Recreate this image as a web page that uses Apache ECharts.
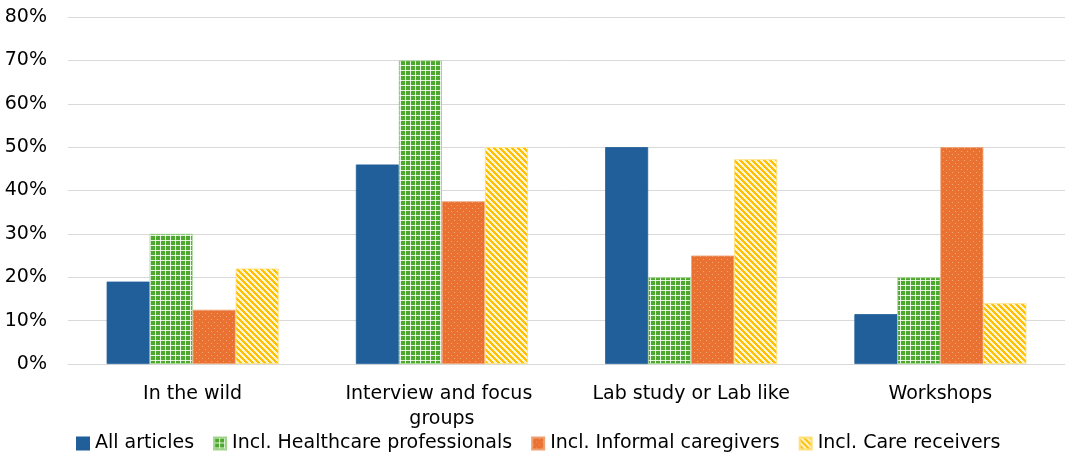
<!DOCTYPE html>
<html>
<head>
<meta charset="utf-8">
<script src="https://cdn.jsdelivr.net/npm/echarts@6/dist/echarts.min.js"></script>
<style>
  html, body { margin: 0; padding: 0; background: #ffffff; }
  #chart { width: 1065px; height: 453px; }
</style>
</head>
<body>
<div id="chart"></div>
<script>
// Study settings and the share of articles for each participant group
const categories = ['In the wild', 'Interview and focus groups', 'Lab study or Lab like', 'Workshops'];
const seriesNames = ['All articles', 'Incl. Healthcare professionals', 'Incl. Informal caregivers', 'Incl. Care receivers'];
const allArticles = [19, 46, 50, 11.5];
const healthcareProfessionals = [30, 70, 20, 20];
const informalCaregivers = [12.5, 37.5, 25, 50];
const careReceivers = [22, 50, 47.2, 14];
const yTicks = [0, 10, 20, 30, 40, 50, 60, 70, 80];

const FONT = '"DejaVu Sans", "Open Sans", sans-serif';
const FONT_SIZE = 19;

// Small repeating tiles used as bar fills
function tile(size, draw) {
  const c = document.createElement('canvas');
  c.width = size; c.height = size;
  const ctx = c.getContext('2d');
  draw(ctx, size);
  return { image: c, repeat: 'repeat' };
}
const gridFill = tile(5, (ctx, s) => {
  ctx.fillStyle = '#4EA72E'; ctx.fillRect(0, 0, s, s);
  ctx.fillStyle = 'rgba(255,255,255,0.85)';
  ctx.fillRect(0, 0, s, 1);
  ctx.fillRect(0, 0, 1, s);
});
const dotFill = tile(6, (ctx, s) => {
  ctx.fillStyle = '#E97132'; ctx.fillRect(0, 0, s, s);
  ctx.fillStyle = 'rgba(255,200,160,0.6)';
  ctx.fillRect(1, 1, 1, 1);
  ctx.fillRect(4, 4, 1, 1);
});
const stripeFill = tile(6, (ctx, s) => {
  ctx.fillStyle = '#FFC000'; ctx.fillRect(0, 0, s, s);
  ctx.fillStyle = '#FFF4D6';
  for (let y = 0; y < s; y++) {
    for (let k = 0; k < 3; k++) ctx.fillRect((y + k) % s, y, 1, 1);
  }
});

const fills = ['#215F9A', gridFill, dotFill, stripeFill];
const borders = ['#215F9A', '#9fd58a', '#f0a070', '#ffe07a'];
const values = [allArticles, healthcareProfessionals, informalCaregivers, careReceivers];

const chart = echarts.init(document.getElementById('chart'), null, { renderer: 'canvas' });
chart.setOption({
  animation: false,
  backgroundColor: '#ffffff',
  textStyle: { fontFamily: FONT },
  grid: { left: 68, right: 0, top: 17, bottom: 89, containLabel: false },
  legend: {
    top: 429,
    left: 71,
    itemWidth: 12,
    itemHeight: 12,
    itemGap: 19,
    icon: 'rect',
    textStyle: { fontFamily: FONT, fontSize: FONT_SIZE, color: '#000000', padding: [0, 0, 0, 1] },
    data: seriesNames
  },
  xAxis: {
    type: 'category',
    data: categories,
    axisLine: { show: true, lineStyle: { color: '#d9d9d9', width: 1 } },
    axisTick: { show: false },
    axisLabel: {
      fontFamily: FONT, fontSize: FONT_SIZE, color: '#000000',
      margin: 18, lineHeight: 25, width: 205, overflow: 'break', interval: 0
    }
  },
  yAxis: {
    type: 'value',
    min: yTicks[0],
    max: yTicks[yTicks.length - 1],
    interval: yTicks[1] - yTicks[0],
    axisLine: { show: false },
    axisTick: { show: false },
    splitLine: { lineStyle: { color: '#d9d9d9', width: 1 } },
    axisLabel: {
      fontFamily: FONT, fontSize: FONT_SIZE, color: '#000000', margin: 21,
      formatter: v => v + '%'
    }
  },
  series: seriesNames.map((name, i) => ({
    name,
    type: 'bar',
    data: values[i],
    barGap: '0%',
    barCategoryGap: '31%',
    itemStyle: { color: fills[i], borderColor: borders[i], borderWidth: 0.8 }
  }))
});
</script>
</body>
</html>
